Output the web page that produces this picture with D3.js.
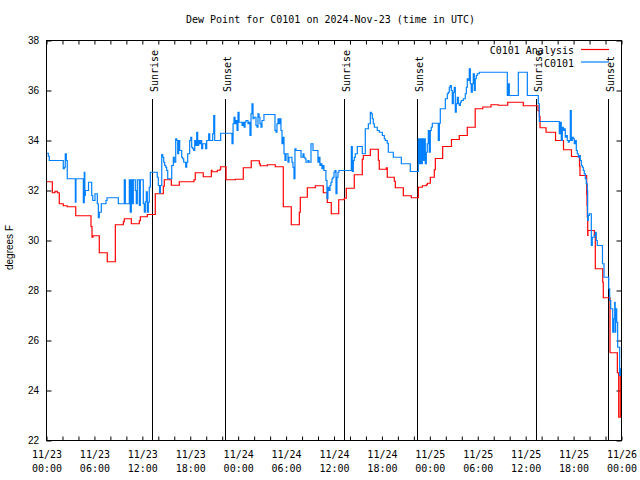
<!DOCTYPE html>
<html><head><meta charset="utf-8">
<script src="https://cdn.jsdelivr.net/npm/d3@7"></script>
<style>body{margin:0;background:#fff}svg{display:block}</style>
</head><body>
<svg id="c" width="640" height="480"></svg>
<script>
const titleText = "Dew Point for C0101 on 2024-Nov-23 (time in UTC)";
const yLabelText = "degrees F";
const seriesNames = ["C0101 Analysis", "C0101"];
const seriesColors = ["#ff0000", "#0080ff"];
const startMs = Date.UTC(2024, 10, 23, 0, 0);
const spanHours = 72;
const yTickValues = [22, 24, 26, 28, 30, 32, 34, 36, 38];
const sunHours = [13.25, 22.40, 37.29, 46.43, 61.33, 70.35];
const sunLabels = ["Sunrise", "Sunset", "Sunrise", "Sunset", "Sunrise", "Sunset"];

// [hours since 11/23 00:00 UTC, degrees F]
const analysisPoints = [[0,32.35],[0.73,31.91],[1.06,31.97],[1.35,31.91],[1.60,31.47],[2.10,31.39],[2.60,31.35],[3.66,30.99],[5.57,30.56],[5.70,30.13],[5.82,30.19],[6.61,29.51],[7.61,29.15],[8.62,30.63],[9.62,30.75],[9.74,30.87],[10.62,30.67],[11.62,30.79],[11.75,30.95],[12.62,31.04],[13.62,31.87],[14.63,32.17],[14.75,32.43],[15.63,32.21],[16.63,32.35],[18.47,32.43],[18.63,32.71],[19.63,32.55],[20.64,32.81],[20.72,32.75],[21.39,32.81],[21.73,32.85],[21.81,32.95],[22.48,32.43],[23.64,32.45],[24.64,32.91],[25.64,33.19],[26.65,33.07],[26.77,32.99],[27.65,33.03],[28.65,32.95],[29.65,31.35],[30.65,30.63],[31.66,31.13],[31.78,31.73],[32.66,32.11],[33.66,32.19],[34.66,31.91],[35.16,31.52],[35.66,31.07],[36.59,31.63],[37.29,31.69],[37.54,32.09],[38.54,32.63],[39.54,33.25],[39.67,33.40],[40.55,33.65],[41.55,33.21],[41.67,32.85],[42.55,32.91],[42.67,32.53],[43.55,32.37],[43.68,32.11],[44.68,31.79],[45.68,31.71],[46.56,32.13],[47.06,32.19],[47.56,32.23],[47.69,32.29],[48.06,32.53],[48.56,32.83],[48.69,33.28],[49.61,33.76],[50.71,34.04],[51.69,34.20],[52.69,34.53],[53.68,35.27],[54.63,35.34],[55.66,35.43],[56.57,35.41],[57.75,35.53],[59.70,35.39],[61.55,35.19],[61.71,34.96],[61.80,34.51],[62.55,34.33],[63.74,34.00],[64.74,33.63],[65.74,33.36],[66.74,32.97],[66.80,32.60],[67.64,31.84],[67.68,31.40],[67.72,30.93],[67.77,30.20],[67.80,30.40],[68.60,30.20],[68.72,28.87],[69.65,28.33],[69.72,27.71],[70.56,25.51],[71.48,24.71],[71.65,22.93],[71.85,24.80],[72,24.80]];

const observedPoints = [[0,33.49],[0.23,33.37],[0.35,33.20],[2.10,32.87],[2.23,32.93],[2.35,33.47],[2.48,33.20],[2.60,32.47],[3.61,31.53],[3.69,32.47],[4.61,31.51],[4.73,32.73],[4.80,31.80],[4.86,32.00],[5.26,32.33],[5.66,31.80],[5.79,31.60],[6.07,31.87],[6.36,31.47],[6.49,30.91],[6.61,31.13],[6.86,31.47],[7.45,31.60],[7.58,31.71],[8.99,31.47],[9.74,32.43],[9.87,31.47],[10.37,32.43],[10.49,31.13],[10.62,32.43],[10.74,31.47],[10.87,32.43],[11.12,32.00],[11.24,31.47],[11.37,32.43],[11.62,31.40],[11.75,32.43],[12.12,31.47],[12.25,31.13],[12.37,31.55],[12.50,31.95],[12.62,31.13],[12.75,31.53],[12.87,32.13],[13.00,32.73],[13.87,32.53],[14.00,32.20],[14.15,31.90],[14.27,32.20],[14.43,33.44],[14.55,33.33],[14.68,33.13],[14.80,33.00],[14.93,32.93],[15.05,32.80],[15.18,32.47],[15.68,33.00],[15.88,33.33],[16.00,33.13],[16.18,34.07],[16.30,34.00],[16.43,33.47],[16.55,34.00],[16.68,33.60],[16.93,33.33],[17.05,33.27],[17.18,33.13],[17.43,32.93],[17.56,33.13],[17.68,33.47],[17.93,34.00],[18.06,34.13],[18.18,33.73],[18.31,33.67],[18.43,33.60],[18.56,34.00],[18.68,33.80],[18.81,34.33],[18.93,33.80],[19.06,34.00],[19.18,33.87],[19.31,34.00],[19.43,33.67],[19.56,33.87],[19.93,33.67],[20.06,34.00],[20.31,34.27],[20.44,34.00],[20.81,34.27],[20.94,35.00],[21.06,34.00],[21.81,34.29],[23.23,33.87],[23.36,34.67],[23.48,34.93],[23.61,34.67],[23.73,34.80],[23.86,34.40],[23.98,35.13],[24.11,34.73],[24.49,34.60],[24.61,34.73],[24.74,34.53],[24.86,34.73],[24.98,34.80],[25.23,34.67],[25.36,34.73],[25.48,34.20],[25.61,35.07],[25.73,35.47],[25.86,34.87],[25.98,34.93],[26.23,34.60],[26.36,34.53],[26.48,35.07],[26.61,34.93],[26.73,34.67],[26.86,34.53],[26.98,34.80],[27.23,35.04],[28.61,34.40],[28.74,34.33],[28.86,34.67],[28.99,34.87],[29.11,34.67],[29.24,34.87],[29.36,34.40],[29.49,33.87],[29.61,34.13],[29.74,33.47],[29.86,33.20],[29.99,33.47],[30.24,33.13],[30.36,33.33],[30.74,33.13],[30.86,32.93],[30.99,32.47],[31.11,33.67],[31.24,33.60],[31.87,33.33],[32.12,33.47],[32.24,33.33],[32.37,33.27],[32.49,33.13],[32.74,33.20],[32.86,33.13],[33.12,33.87],[33.37,33.60],[33.99,33.13],[34.12,33.33],[34.24,33.00],[34.37,33.07],[34.49,32.87],[34.62,33.00],[34.74,32.80],[34.99,32.40],[35.12,31.67],[35.24,32.13],[35.37,32.00],[35.50,32.20],[35.62,32.33],[35.75,32.47],[35.87,32.53],[36.00,32.73],[36.12,32.80],[36.25,31.87],[36.37,32.53],[36.50,32.73],[36.62,32.80],[38.17,33.76],[38.29,32.76],[38.42,33.20],[38.54,33.33],[38.67,33.47],[38.92,33.76],[39.54,33.47],[39.92,34.47],[40.30,34.67],[40.55,35.13],[40.67,35.07],[40.80,34.87],[40.92,34.67],[41.05,34.53],[41.42,34.40],[41.67,34.33],[42.05,34.20],[42.30,34.07],[42.42,34.00],[42.67,33.89],[42.80,33.53],[43.43,33.33],[44.43,33.07],[45.55,32.76],[46.56,34.07],[46.68,33.07],[46.81,34.07],[46.93,33.07],[47.06,34.07],[47.18,33.20],[47.31,34.07],[47.43,33.07],[47.56,33.53],[47.68,33.87],[47.81,34.40],[47.93,33.53],[48.06,34.40],[48.18,34.53],[48.31,34.69],[49.06,34.00],[49.19,34.69],[49.31,35.27],[49.94,35.67],[50.19,35.87],[50.31,35.93],[50.44,36.13],[50.56,36.20],[50.69,36.00],[50.81,35.47],[50.94,35.93],[51.06,36.13],[51.19,35.13],[51.31,35.47],[51.44,35.73],[51.57,35.47],[51.69,35.40],[51.82,35.53],[51.94,35.60],[52.19,35.67],[52.44,35.87],[52.57,36.13],[52.69,36.47],[52.82,36.40],[52.94,36.87],[53.07,36.27],[53.19,35.93],[53.32,36.27],[53.44,36.67],[53.57,36.00],[53.69,36.47],[53.82,36.60],[53.94,36.67],[54.19,36.73],[57.70,35.80],[57.83,36.27],[57.95,35.80],[59.08,36.73],[60.21,35.80],[61.58,35.47],[61.71,34.76],[64.21,34.27],[64.34,34.73],[64.46,34.00],[64.59,34.53],[64.71,34.40],[64.84,34.47],[64.96,34.13],[65.09,34.20],[65.21,34.00],[65.34,33.93],[65.46,34.00],[65.59,35.20],[65.71,34.00],[65.84,34.13],[65.96,34.07],[66.09,33.87],[66.21,34.00],[66.34,33.60],[66.46,33.47],[66.59,33.33],[66.71,33.40],[66.84,33.20],[66.97,33.00],[67.09,32.93],[67.22,32.80],[67.34,32.67],[67.47,32.47],[67.59,32.27],[67.72,32.00],[67.76,30.80],[67.84,31.00],[67.97,31.07],[68.22,29.80],[68.34,30.13],[68.59,30.20],[68.72,30.33],[68.84,30.00],[68.97,29.80],[69.62,29.07],[69.81,28.53],[70.40,28.07],[70.52,27.60],[70.65,27.27],[70.90,26.33],[71.02,26.87],[71.15,27.53],[71.21,26.33],[71.27,27.27],[71.40,26.73],[71.52,25.73],[71.77,24.60],[71.90,24.87],[72,24.87]];

const mono = "'DejaVu Sans Mono', 'Liberation Mono', monospace";
const sans = "'Liberation Sans', Arial, sans-serif";
const svg = d3.select("#c");
const L = 46.5, R = 621.5, T = 40.5, B = 440.5;
const toDate = h => new Date(startMs + h * 3600000);
const x = d3.scaleUtc().domain([toDate(0), toDate(spanHours)]).range([L, R]);
const y = d3.scaleLinear().domain([22, 38]).range([B, T]);

svg.append("text").attr("x", 330.5).attr("y", 23).attr("text-anchor", "middle")
  .style("font-family", mono).style("font-size", "10px").text(titleText);

svg.append("text").attr("transform", "translate(13,247.5) rotate(-90)").attr("text-anchor", "middle")
  .style("font-family", sans).style("font-size", "10px").text(yLabelText);

const every2 = d3.utcHour.every(2);
const gl = svg.append("g").attr("transform", `translate(${L},0)`)
  .call(d3.axisLeft(y).tickValues(yTickValues).tickSize(-5).tickPadding(7.5).tickFormat(d3.format("d")));
const gr = svg.append("g").attr("transform", `translate(${R},0)`)
  .call(d3.axisRight(y).tickValues(yTickValues).tickSize(-5).tickFormat(""));
const gt = svg.append("g").attr("transform", `translate(0,${T})`)
  .call(d3.axisTop(x).ticks(every2).tickSize(-4).tickFormat(""));
const gb = svg.append("g").attr("transform", `translate(0,${B})`)
  .call(d3.axisBottom(x).ticks(every2).tickSize(-4).tickFormat(""));
const gbl = svg.append("g").attr("transform", `translate(0,${B})`)
  .call(d3.axisBottom(x).ticks(d3.utcHour.every(6)).tickSize(0).tickPadding(0));
[gl, gr, gt, gb, gbl].forEach(g => { g.select(".domain").remove(); g.selectAll("line").attr("stroke", "#000"); });
gl.selectAll("text").style("font-family", sans).style("font-size", "10px").attr("fill", "#000");
gbl.selectAll("text").each(function(d) {
  const t = d3.select(this).attr("dy", null).attr("y", null).text(null)
    .style("font-family", mono).style("font-size", "10px").attr("fill", "#000");
  t.append("tspan").attr("x", 0).attr("y", 17.5).text(d3.utcFormat("%m/%d")(d));
  t.append("tspan").attr("x", 0).attr("y", 31).text(d3.utcFormat("%H:%M")(d));
});

const sun = svg.append("g");
sunHours.forEach((h, i) => {
  const sx = Math.round(x(toDate(h))) + 0.5;
  sun.append("line").attr("x1", sx).attr("x2", sx).attr("y1", B).attr("y2", 99)
    .attr("stroke", "#000").attr("stroke-width", 1);
  sun.append("text").attr("transform", `translate(${sx + 5.5},92) rotate(-90)`)
    .style("font-family", mono).style("font-size", "10px").text(sunLabels[i]);
});

const line = d3.line().curve(d3.curveStepAfter)
  .x(d => x(toDate(d[0]))).y(d => y(d[1]));
[analysisPoints, observedPoints].forEach((pts, i) => {
  svg.append("path").datum(pts).attr("d", line).attr("fill", "none")
    .attr("stroke", seriesColors[i]).attr("stroke-width", 1.2);
});

svg.append("rect").attr("x", L).attr("y", T).attr("width", R - L).attr("height", B - T)
  .attr("fill", "none").attr("stroke", "#000").attr("stroke-width", 1);

seriesNames.forEach((n, i) => {
  const ly = 49.5 + i * 12.5;
  svg.append("text").attr("x", 574).attr("y", ly + 4.5).attr("text-anchor", "end")
    .style("font-family", mono).style("font-size", "10px").text(n);
  svg.append("line").attr("x1", 581).attr("x2", 609).attr("y1", ly).attr("y2", ly)
    .attr("stroke", seriesColors[i]).attr("stroke-width", 1.2);
});
</script>
</body></html>
